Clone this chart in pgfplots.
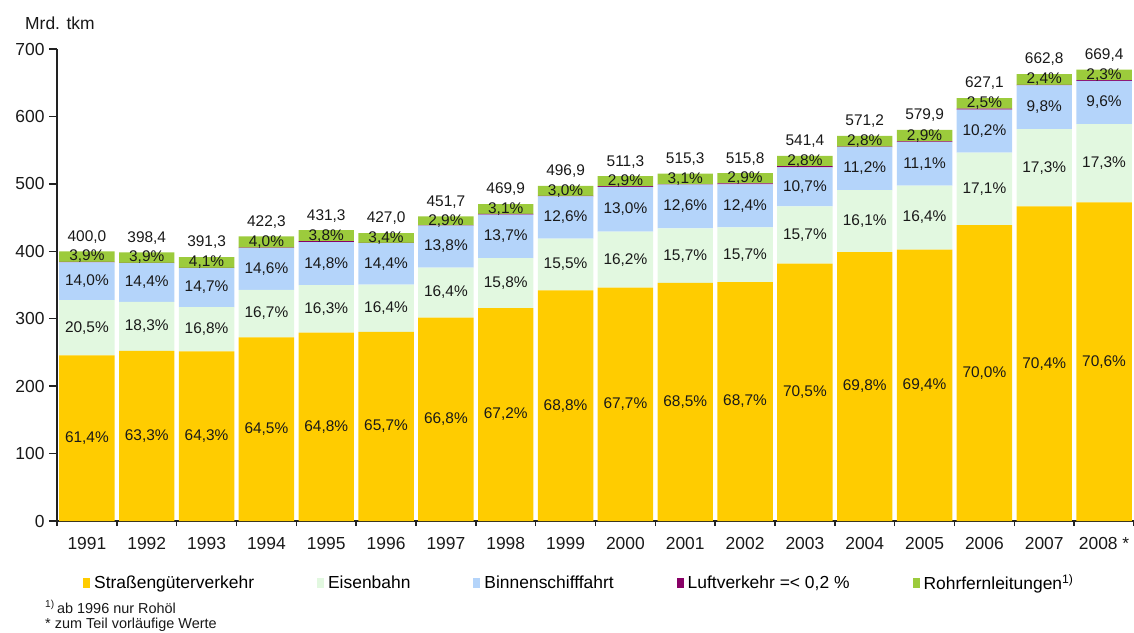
\documentclass[border=0pt]{standalone}
\usepackage{pgfplots}
\pgfplotsset{compat=1.18}
\usepackage{pgfplotstable}
\usepackage{fontspec}
\setmainfont{Liberation Sans}
\definecolor{cS}{HTML}{FFCC00}
\definecolor{cE}{HTML}{E2F8E0}
\definecolor{cB}{HTML}{B4D4FA}
\definecolor{cL}{HTML}{880066}
\definecolor{cR}{HTML}{9CCB3C}
\definecolor{axc}{HTML}{222222}
% segment values (Mrd. tkm)
\pgfplotstableread{
x s e b l r
0  245.60 82.00  56.00 0.80 15.60
1  252.19 72.91  57.37 0.40 15.54
2  251.61 65.74  57.52 0.39 16.04
3  272.38 70.52  61.66 0.84 16.89
4  279.48 70.30  63.83 1.29 16.39
5  280.54 70.03  61.49 0.43 14.52
6  301.74 74.08  62.33 0.45 13.10
7  315.77 74.24  64.38 0.94 14.57
8  341.87 77.02  62.61 0.50 14.91
9  346.15 82.83  66.47 1.02 14.83
10 352.98 80.90  64.93 0.52 15.97
11 354.35 80.98  63.96 1.55 14.96
12 381.69 85.00  57.93 1.62 15.16
13 398.70 91.96  63.97 0.57 15.99
14 402.45 95.10  64.37 1.16 16.82
15 438.97 107.23 63.96 1.25 15.68
16 466.61 114.66 64.95 0.66 15.91
17 472.60 115.81 64.26 1.34 15.40
}\data
% label positions (segment centres, totals) and label texts
\pgfplotstableread{
x cs cE cb cr t ls le lb lr lt
0  122.80 286.60 355.60 392.20 400.0 61,4 20,5 14,0 3,9 400,0
1  126.10 288.65 353.79 390.64 398.4 63,3 18,3 14,4 3,9 398,4
2  125.81 284.48 346.11 383.28 391.3 64,3 16,8 14,7 4,1 391,3
3  136.19 307.64 373.73 413.85 422.3 64,5 16,7 14,6 4,0 422,3
4  139.74 314.63 381.70 423.10 431.3 64,8 16,3 14,8 3,8 431,3
5  140.27 315.56 381.32 419.75 427.0 65,7 16,4 14,4 3,4 427,0
6  150.87 338.78 406.99 445.15 451.7 66,8 16,4 13,8 2,9 451,7
7  157.89 352.89 422.20 462.62 469.9 67,2 15,8 13,7 3,1 469,9
8  170.94 380.38 450.20 489.46 496.9 68,8 15,5 12,6 3,0 496,9
9  173.08 387.57 462.22 503.89 511.3 67,7 16,2 13,0 2,9 511,3
10 176.49 393.43 466.35 507.32 515.3 68,5 15,7 12,6 3,1 515,3
11 177.18 394.84 467.31 508.32 515.8 68,7 15,7 12,4 2,9 515,8
12 190.85 424.19 495.66 533.82 541.4 70,5 15,7 10,7 2,8 541,4
13 199.35 444.68 522.65 563.20 571.2 69,8 16,1 11,2 2,8 571,2
14 201.23 450.00 529.74 571.49 579.9 69,4 16,4 11,1 2,9 579,9
15 219.49 492.59 578.18 619.25 627.1 70,0 17,1 10,2 2,5 627,1
16 233.31 523.94 613.75 654.84 662.8 70,4 17,3 9,8  2,4 662,8
17 236.30 530.51 620.54 661.71 669.4 70,6 17,3 9,6  2,3 669,4
}\labels
\pgfplotsset{
  common/.style={
    at={(0,0)}, anchor=south west,
    scale only axis, width=1077bp, height=472bp,
    xmin=-0.5, xmax=17.5, ymin=0, ymax=700, clip=false,
  },
  pct/.style={draw=none, mark=none, only marks,
    nodes near coords={\pgfplotspointmeta\%},
    point meta=explicit symbolic,
    every node near coord/.append style={anchor=center, inner sep=0pt,
      font=\fontsize{15.5}{17}\selectfont, text=black!90}},
}
\begin{document}
\begin{tikzpicture}
\begin{axis}[
  common,
  ybar stacked, bar width=0.925,
  axis lines=left,
  axis line style={-, line width=1.6bp, color=axc},
  ytick={0,100,...,700},
  xtick={0,...,17},
  xticklabels={1991,1992,1993,1994,1995,1996,1997,1998,1999,2000,2001,2002,2003,2004,2005,2006,2007,2008 *},
  minor xtick={-0.5,0.5,...,17.5},
  tick align=outside,
  major tick length=8bp, minor tick length=5bp,
  tick style={line width=1.4bp, color=axc},
  major x tick style={draw=none},
  tick label style={font=\fontsize{17.5}{19}\selectfont, text=black!90},
  /pgf/number format/assume math mode=true,
  xticklabel style={yshift=-5bp},
  yticklabel style={xshift=-1bp},
  legend columns=5,
  legend style={at={(26bp,-62bp)}, anchor=west, draw=none, fill=none,
    font=\fontsize{17.5}{19}\selectfont, inner sep=0pt,
    nodes={inner sep=0pt},
    /tikz/every even column/.append style={column sep=63bp},
    /tikz/every odd column/.append style={column sep=4bp}},
  legend image code/.code={\fill[#1] (0bp,-5bp) rectangle (7bp,5bp);},
]
\addplot[fill=cS, draw=none] table[x=x, y=s] {\data};
\addlegendentry{Straßengüterverkehr}
\addplot[fill=cE, draw=none] table[x=x, y=e] {\data};
\addlegendentry{Eisenbahn}
\addplot[fill=cB, draw=none] table[x=x, y=b] {\data};
\addlegendentry{Binnenschifffahrt}
\addplot[fill=cL, draw=none] table[x=x, y=l] {\data};
\addlegendentry{Luftverkehr =< 0,2 \%}
\addplot[fill=cR, draw=none] table[x=x, y=r] {\data};
\addlegendentry{Rohrfernleitungen\textsuperscript{1)}}
\end{axis}
\begin{axis}[common, hide axis]
\addplot[pct] table[x=x, y=cs, meta=ls] {\labels};
\addplot[pct] table[x=x, y=cE, meta=le] {\labels};
\addplot[pct] table[x=x, y=cb, meta=lb] {\labels};
\addplot[pct] table[x=x, y=cr, meta=lr] {\labels};
\addplot[draw=none, mark=none, only marks, nodes near coords, point meta=explicit symbolic,
  every node near coord/.append style={anchor=south, inner sep=0pt, yshift=8bp,
    font=\fontsize{15.5}{17}\selectfont, text=black!90}]
  table[x=x, y=t, meta=lt] {\labels};
\end{axis}
\node[anchor=west, inner sep=0pt, font=\fontsize{17.5}{19}\selectfont, text=black!90] at (-32bp,498bp) {Mrd. tkm};
\node[anchor=west, inner sep=0pt, font=\fontsize{14.5}{16}\selectfont, text=black!90] at (-12bp,-86bp) {\textsuperscript{1)}\,ab 1996 nur Rohöl};
\node[anchor=west, inner sep=0pt, font=\fontsize{14.5}{16}\selectfont, text=black!90] at (-12bp,-104bp) {* zum Teil vorläufige Werte};
\pgfresetboundingbox
\path (-57bp,-112bp) rectangle (1077bp,521bp);
\end{tikzpicture}
\end{document}
